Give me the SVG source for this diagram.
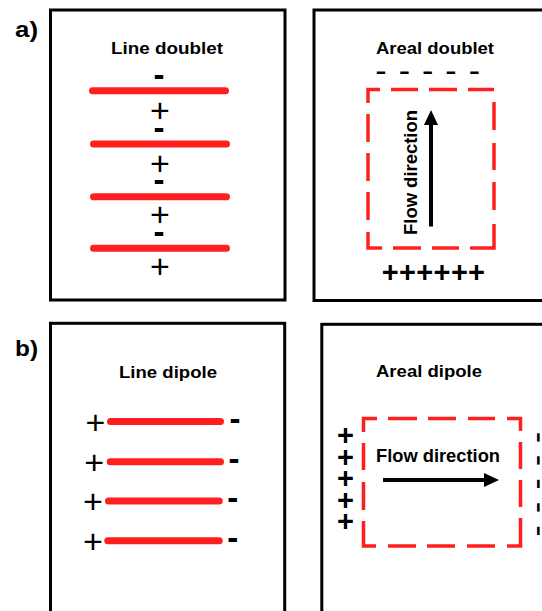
<svg xmlns="http://www.w3.org/2000/svg" width="542" height="611" viewBox="0 0 542 611">
  <defs>
    <style>
      text { font-family: "Liberation Sans", Arial, sans-serif; fill: #000; }
      .frame { fill: none; stroke: #000; stroke-width: 3; }
      .lbl { font-size: 22px; font-weight: bold; }
      .title { font-size: 17px; font-weight: bold; text-anchor: middle; }
      .flow { font-size: 18.5px; font-weight: bold; text-anchor: middle; }
      .q { font-size: 34px; text-anchor: middle; }
      .qm { font-size: 33px; font-weight: bold; text-anchor: middle; }
      .qb { font-size: 29px; font-weight: bold; text-anchor: middle; }
      .bar { stroke: #ff1f1f; stroke-width: 7; stroke-linecap: round; fill: none; }
      .zone { stroke: #ff1f1f; stroke-width: 3.5; fill: none; stroke-linejoin: miter; stroke-linecap: butt; }
      .shaft { stroke: #000; stroke-width: 4; fill: none; }
    </style>
    <marker id="head" markerUnits="userSpaceOnUse" markerWidth="15" markerHeight="14" refX="0" refY="7" orient="auto">
      <path d="M0,0 L15,7 L0,14 Z" fill="#000"/>
    </marker>
  </defs>

  <rect width="542" height="611" fill="#fff"/>

  <!-- panel letters -->
  <g id="labels">
    <text class="lbl" x="15" y="37" textLength="23" lengthAdjust="spacingAndGlyphs">a)</text>
    <text class="lbl" x="15" y="356" textLength="23" lengthAdjust="spacingAndGlyphs">b)</text>
  </g>

  <!-- a) line doublet: charged sheets seen edge-on -->
  <g id="line-doublet">
    <rect class="frame" x="50.5" y="10" width="234.5" height="290"/>
    <text class="title" x="167" y="54" textLength="112" lengthAdjust="spacingAndGlyphs">Line doublet</text>
    <path class="bar" d="M92.5,90.7 H225.5 M93.5,144 H226.5 M93.5,196.7 H226.5 M93.5,248.3 H226.5"/>
    <text class="qm" x="159 159 159 159" y="86 139.3 191.3 243.3">----</text>
    <text class="q" x="160 160 160 160" y="121.5 175 226 278">++++</text>
  </g>

  <!-- a) areal doublet -->
  <g id="areal-doublet">
    <rect class="frame" x="314" y="10" width="235" height="290.5"/>
    <text class="title" x="435" y="53.5" textLength="118" lengthAdjust="spacingAndGlyphs">Areal doublet</text>
    <text class="q" x="381 404.3 427.6 451 474.3" y="81.7 81.7 81.7 81.7 81.7">-----</text>
    <path class="zone" d="M368,103 V89.5 H380 M391,89.5 H418 M429,89.5 H457 M468,89.5 H494 M494,102 V130 M494,143 V170 M494,182 V210 M494,224 V248 H470 M459,248 H432 M421,248 H393 M382,248 H368 V232 M368,220 V192 M368,181 V153 M368,142 V114"/>
    <line class="shaft" x1="431" y1="226.5" x2="431" y2="125" marker-end="url(#head)"/>
    <text class="flow" transform="translate(416.5,172.5) rotate(-90)" x="0" y="0" textLength="125" lengthAdjust="spacingAndGlyphs">Flow direction</text>
    <text class="qb" x="390.3 407.5 424.8 442 459.5 476.5" y="282 282 282 282 282 282">++++++</text>
  </g>

  <!-- b) line dipole -->
  <g id="line-dipole">
    <rect class="frame" x="50.5" y="323.3" width="234.2" height="300"/>
    <text class="title" x="168" y="378.3" textLength="98" lengthAdjust="spacingAndGlyphs">Line dipole</text>
    <path class="bar" d="M110.5,421.5 H220.5 M110.2,461.7 H220.5 M108.5,501 H219.2 M107.8,540.7 H219.2"/>
    <text class="q" x="95.5 94.3 93 93" y="434 474 513.2 553">++++</text>
    <text class="qm" x="235 234 232.7 232.7" y="430 470 509.3 549">----</text>
  </g>

  <!-- b) areal dipole -->
  <g id="areal-dipole">
    <rect class="frame" x="321.8" y="324.3" width="230" height="300"/>
    <text class="title" x="429" y="376.7" textLength="106" lengthAdjust="spacingAndGlyphs">Areal dipole</text>
    <path class="zone" d="M363.5,432 V418.5 H377 M388,418.5 H417 M428,418.5 H456 M468,418.5 H495 M507,418.5 H520.5 V431 M520.5,442 V469 M520.5,480 V507 M520.5,518 V546 H507 M495,546 H467 M455,546 H427 M416,546 H388 M376,546 H363.5 V521 M363.5,510 V482 M363.5,470 V443"/>
    <text class="flow" x="438" y="461.7" textLength="124" lengthAdjust="spacingAndGlyphs">Flow direction</text>
    <line class="shaft" x1="383" y1="480" x2="484" y2="480" marker-end="url(#head)"/>
    <text class="qb" x="345.5 345.5 345.5 345.5 345.5" y="445 466.5 488 509.5 531">+++++</text>
    <text class="q" transform="translate(538.5,0) rotate(90)" x="437.5 460.5 484 507.5 531" y="9.25 9.25 9.25 9.25 9.25">-----</text>
  </g>
</svg>
